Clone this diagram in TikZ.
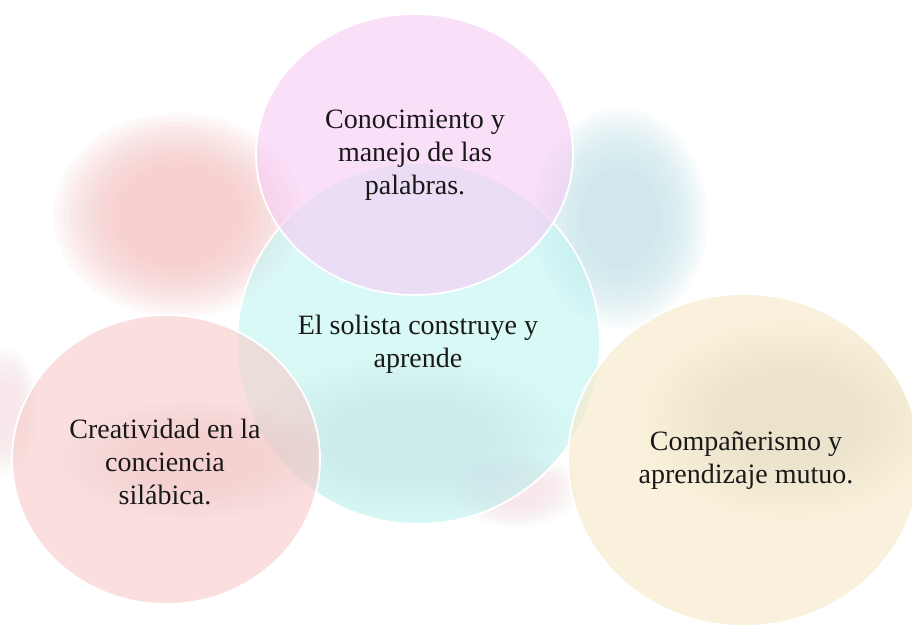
\documentclass[tikz,border=0pt]{standalone}
\usepackage{fontspec}
\setmainfont{Liberation Serif}
\definecolor{blobred}{RGB}{248,192,192}
\definecolor{blobblue}{RGB}{196,228,234}
\definecolor{blobpink}{RGB}{248,210,216}
\definecolor{cCenter}{RGB}{193,245,243}
\definecolor{cTop}{RGB}{247,203,245}
\definecolor{cLeft}{RGB}{247,203,200}
\definecolor{cRight}{RGB}{248,233,197}
\definecolor{texBeige}{RGB}{225,208,175}
\definecolor{texBlue}{RGB}{200,215,235}
\definecolor{texPink}{RGB}{245,185,200}
% soft watercolour blob: colour, x, y, x radius, y radius, layer opacity
\newcommand\wblob[6]{%
  \foreach \k in {1,...,14}{%
    \fill[#1, fill opacity=#6] (#2,#3) ellipse [x radius={#4*(0.4+0.6*\k/14)}, y radius={#5*(0.4+0.6*\k/14)}];
  }%
}
\tikzset{
  bubble/.style={fill opacity=0.6, draw=white, line width=1.8pt},
  lbl/.style={align=center, inner sep=0pt, font=\fontsize{28}{33}\selectfont, text=black!90}
}
\begin{document}
\begin{tikzpicture}[x=1pt,y=-1pt]
\useasboundingbox[fill=white] (0,0) rectangle (912,624);
% background watercolour blobs
\wblob{blobred}{178}{215}{125}{102}{0.085}
\wblob{blobblue}{620}{218}{88}{110}{0.085}
\wblob{blobpink}{515}{490}{65}{38}{0.035}
\wblob{blobpink}{5}{410}{35}{65}{0.035}
% circles
\path[bubble, fill=cCenter] (418.5,343.5) ellipse [x radius=181.5, y radius=180.5];
\begin{scope}
\clip (418.5,343.5) ellipse [x radius=180, y radius=179];
\wblob{texBlue}{410}{440}{170}{85}{0.025}
\end{scope}
\path[bubble, fill=cTop] (414.5,154.5) ellipse [x radius=158.5, y radius=140.5];
\path[bubble, fill=cLeft] (166,459.5) ellipse [x radius=154, y radius=144.5];
\begin{scope}
\clip (166,459.5) ellipse [x radius=153, y radius=143.5];
\wblob{texPink}{195}{460}{140}{60}{0.02}
\end{scope}
\path[bubble, fill=cRight] (744,460) ellipse [x radius=176, y radius=166];
\begin{scope}
\clip (744,460) ellipse [x radius=175, y radius=165];
\wblob{texBeige}{790}{420}{150}{100}{0.025}
\end{scope}
% labels
\node[lbl] (top) at (415,155) {Conocimiento y\\manejo de las\\palabras.};
\node[lbl] (mid) at (418,344) {El solista construye y\\aprende};
\node[lbl] (left) at (165,462) {Creatividad en la\\conciencia\\silábica.};
\node[lbl] (right) at (746,461) {Compañerismo y\\aprendizaje mutuo.};
\end{tikzpicture}
\end{document}
